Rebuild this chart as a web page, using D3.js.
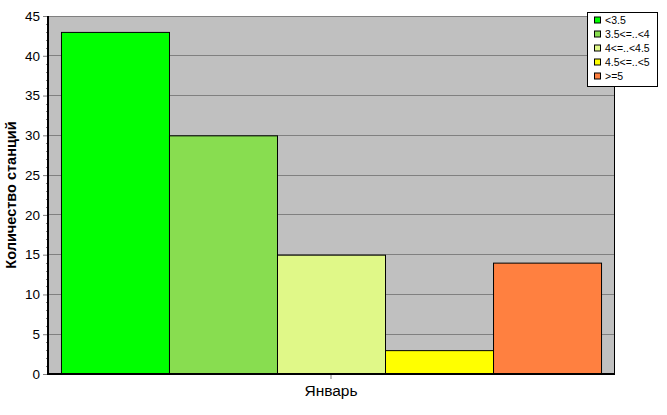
<!DOCTYPE html>
<html><head><meta charset="utf-8">
<script src="https://cdn.jsdelivr.net/npm/d3@7"></script>
<style>body{margin:0;background:#fff}svg{display:block}</style>
</head><body>
<svg id="c" width="667" height="415"></svg>
<script>
const categories = ["Январь"];
const seriesNames = ["<3.5", "3.5<=..<4", "4<=..<4.5", "4.5<=..<5", ">=5"];
const seriesValues = [43, 30, 15, 3, 14];
const seriesColors = ["#00ff00", "#88dd50", "#e0f888", "#ffff00", "#ff8040"];
const yTicks = [0, 5, 10, 15, 20, 25, 30, 35, 40, 45];
const yLabel = "Количество станций";

const svg = d3.select("#c");
const L = 48, R = 614, T = 16, B = 374;
const font = "Liberation Sans, Arial, sans-serif";

const y = d3.scaleLinear().domain([0, 45]).range([B, T]);
const x0 = d3.scaleBand().domain(categories).range([L, R]).paddingInner(0).paddingOuter(0.024);
const x1 = d3.scaleBand().domain(seriesNames).range([0, x0.bandwidth()]);

svg.append("rect").attr("x", L).attr("y", T).attr("width", R - L).attr("height", B - T).attr("fill", "#c0c0c0");

// gridlines
svg.append("g").selectAll("line").data(yTicks.filter(d => d > 0)).join("line")
  .attr("x1", L).attr("x2", R).attr("y1", d => y(d)).attr("y2", d => y(d))
  .attr("stroke", "#808080").attr("stroke-width", 1).attr("shape-rendering", "crispEdges");

// top border
svg.append("line").attr("x1", L).attr("x2", R).attr("y1", T + 0.5).attr("y2", T + 0.5).attr("stroke", "#808080");

// bars
categories.forEach(c => {
  svg.append("g").selectAll("rect").data(seriesValues).join("rect")
    .attr("x", (d, i) => x0(c) + x1(seriesNames[i]) + 0.5)
    .attr("y", d => y(d) + 0.5)
    .attr("width", x1.bandwidth())
    .attr("height", d => B - y(d))
    .attr("fill", (d, i) => seriesColors[i])
    .attr("stroke", "#000").attr("stroke-width", 1);
});

// right border
svg.append("line").attr("x1", R + 0.5).attr("x2", R + 0.5).attr("y1", T).attr("y2", B).attr("stroke", "#000").attr("stroke-width", 1);

// y axis
const yAxis = d3.axisLeft(y).tickValues(yTicks).tickSize(5).tickPadding(3);
const gy = svg.append("g").attr("transform", `translate(${L},0)`).call(yAxis);
gy.select(".domain").remove();
gy.selectAll(".tick line").attr("stroke", "#808080");
gy.selectAll(".tick text").attr("font-family", font).attr("font-size", 13.5).attr("fill", "#000");
// minor ticks
svg.append("g").selectAll("line").data(d3.range(0, 46).filter(d => d % 5 !== 0)).join("line")
  .attr("x1", L - 2).attr("x2", L).attr("y1", d => Math.round(y(d)) + 0.5).attr("y2", d => Math.round(y(d)) + 0.5)
  .attr("stroke", "#808080");

// axis lines
svg.append("line").attr("x1", L).attr("x2", L).attr("y1", T).attr("y2", B + 1).attr("stroke", "#000").attr("stroke-width", 2);
svg.append("line").attr("x1", L).attr("x2", R + 1).attr("y1", B).attr("y2", B).attr("stroke", "#000").attr("stroke-width", 2);

// x axis
const xAxis = d3.axisBottom(x0).tickSize(4).tickPadding(6);
const gx = svg.append("g").attr("transform", `translate(0,${B + 1})`).call(xAxis);
gx.select(".domain").remove();
gx.selectAll(".tick line").attr("stroke", "#808080");
gx.selectAll(".tick text").attr("font-family", font).attr("font-size", 15.5).attr("fill", "#000");

// y label
svg.append("text").attr("transform", `translate(16,${(T + B) / 2}) rotate(-90)`)
  .attr("text-anchor", "middle").attr("font-family", font).attr("font-size", 14.5).attr("font-weight", "bold")
  .text(yLabel);

// legend
const lg = svg.append("g");
lg.append("rect").attr("x", 587.5).attr("y", 12.5).attr("width", 70).attr("height", 74)
  .attr("fill", "#fff").attr("stroke", "#000");
const items = lg.selectAll("g").data(seriesNames).join("g")
  .attr("transform", (d, i) => `translate(594,${20.5 + i * 14})`);
items.append("rect").attr("x", 0.5).attr("y", -3.5).attr("width", 6).attr("height", 6)
  .attr("fill", (d, i) => seriesColors[i]).attr("stroke", "#000");
items.append("text").attr("x", 11).attr("y", 0).attr("dy", "0.35em")
  .attr("font-family", font).attr("font-size", 10.5).text(d => d);
</script>
</body></html>
